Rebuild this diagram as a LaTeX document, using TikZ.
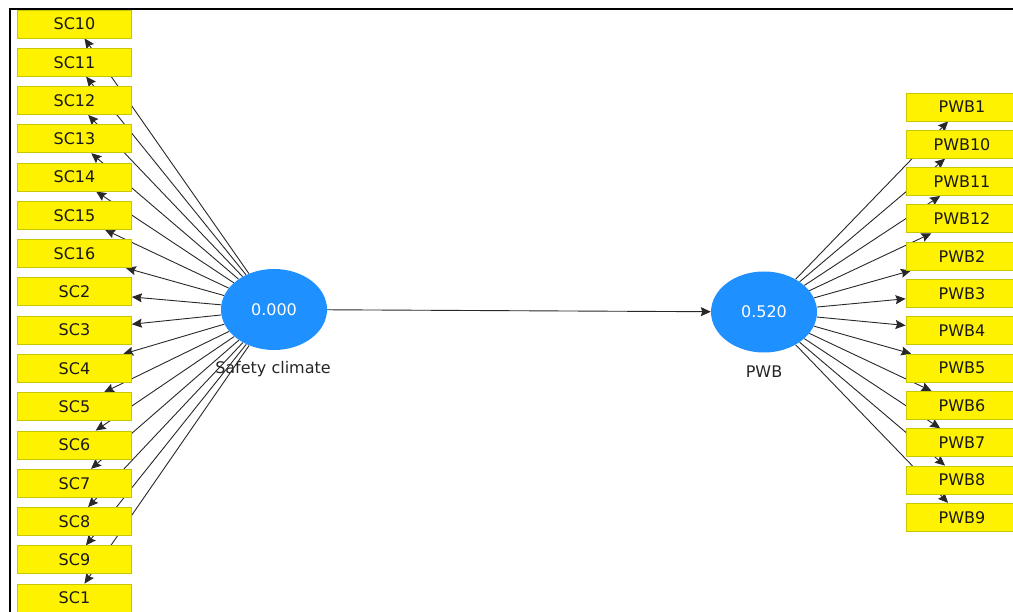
\documentclass[tikz,border=0pt]{standalone}
\usepackage{fontspec}
\newfontfamily\dv{DejaVu Sans}
\usetikzlibrary{shapes.geometric,arrows.meta}
\pgfdeclarelayer{bg}
\pgfsetlayers{bg,main}
\definecolor{lvblue}{RGB}{30,144,255}
\definecolor{boxedge}{RGB}{200,200,0}
\definecolor{linegray}{RGB}{40,40,40}
\tikzset{
  ind/.style={rectangle, draw=boxedge, line width=0.8pt, fill=yellow, minimum width=114pt, minimum height=28pt, inner sep=0pt, text=black!90, font=\dv\fontsize{16}{19}\selectfont},
  lv/.style={ellipse, fill=lvblue, draw=none, minimum width=106pt, minimum height=81pt, inner sep=0pt, text=white, font=\dv\fontsize{16}{19}\selectfont},
  lvlabel/.style={font=\dv\fontsize{16}{19}\selectfont, text=black!85, inner sep=0pt},
  path/.style={draw=linegray, line width=0.9pt, -{Stealth[length=10pt,width=9pt,inset=1.5pt]}}
}
\begin{document}
\begin{tikzpicture}[x=1pt,y=-1pt]
\useasboundingbox (0,0) rectangle (1013,612);
\begin{scope}
\clip (0,0) rectangle (1013,612);
% left indicators
\foreach \n [count=\i from 0] in {10,11,12,13,14,15,16,2,3,4,5,6,7,8,9,1}{
  \node[ind] (sc\n) at (74.5, 24+38.27*\i) {SC\n};
}
% right indicators
\foreach \n [count=\i from 0] in {1,10,11,12,2,3,4,5,6,7,8,9}{
  \node[ind, minimum width=112pt] (pwb\n) at (962, 107+37.3*\i) {PWB\n};
}
\node[lv] (sc) at (274,309.5) {0.000};
\node[lv] (pwb) at (764,312) {0.520};
\node[lvlabel] (sclab) at (273,369) {Safety climate};
\node[lvlabel] (pwblab) at (764,372) {PWB};
\begin{pgfonlayer}{bg}
\foreach \n in {10,11,12,13,14,15,16,2,3,4,5,6,7,8,9,1}{
  \draw[path] (sc) -- (sc\n);
}
\foreach \n in {1,10,11,12,2,3,4,5,6,7,8,9}{
  \draw[path] (pwb) -- (pwb\n);
}
\end{pgfonlayer}
\draw[path] (sc) -- (pwb);
% frame
\draw[line width=2pt, black] (9.5,612) -- (9.5,9.5) -- (1013,9.5);
\end{scope}
\end{tikzpicture}
\end{document}
